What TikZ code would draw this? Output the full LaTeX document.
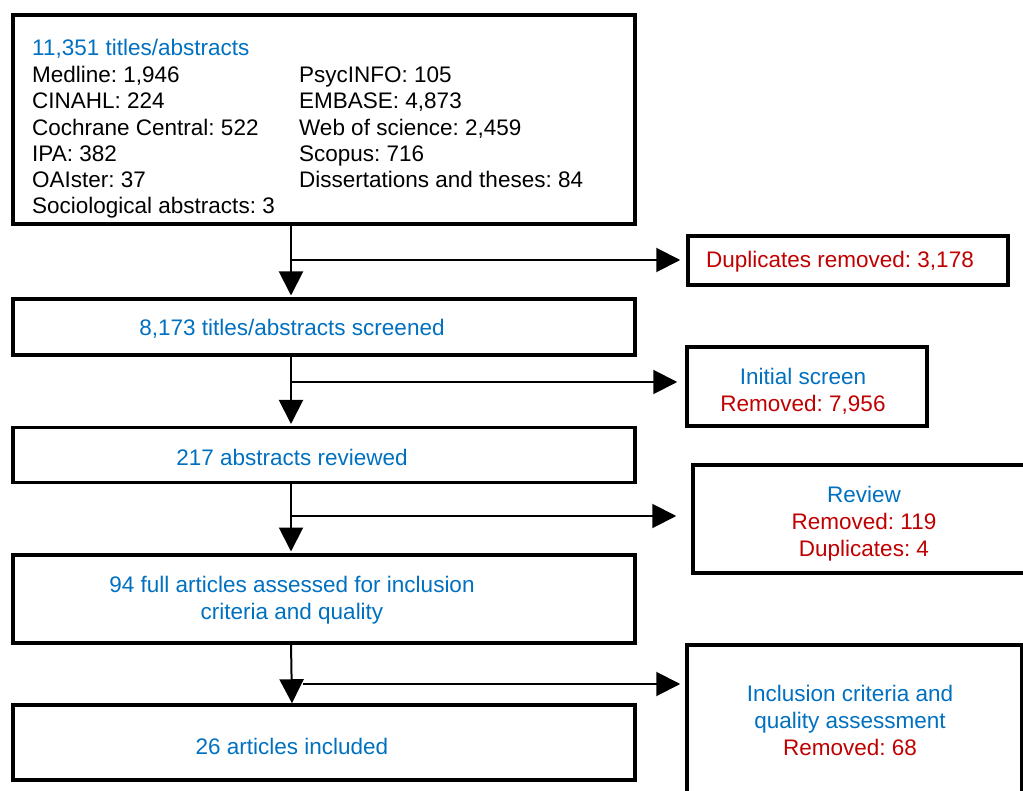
\documentclass[tikz,border=0pt]{standalone}
\usepackage{fontspec}
\setmainfont{Liberation Sans}
\usetikzlibrary{arrows.meta}
\frenchspacing

\definecolor{flowblue}{RGB}{0,112,192}
\definecolor{flowred}{RGB}{192,0,0}

\begin{document}
\begin{tikzpicture}[x=1pt,y=-1pt]
\tikzset{box/.style={draw,line width=3.5pt,inner sep=0pt}}
\tikzset{txt/.style={align=center,inner sep=0pt,font=\fontsize{22.5}{27}\selectfont}}
\tikzset{flow/.style={line width=2pt,-{Triangle[length=24pt,width=24pt]}}}

  \useasboundingbox (0,0) rectangle (1023,791);
  \clip (0,0) rectangle (1023,791);

  % main column
  \node[box,minimum width=622pt,minimum height=209pt] (b1) at (324,119.5) {};
  \node[box,minimum width=622pt,minimum height=56pt]  (b2) at (324,327) {};
  \node[box,minimum width=622pt,minimum height=55pt]  (b3) at (324,455) {};
  \node[box,minimum width=622pt,minimum height=88pt]  (b4) at (324,599) {};
  \node[box,minimum width=622pt,minimum height=75pt]  (b5) at (324,742.5) {};

  % side boxes
  \node[box,minimum width=320pt,minimum height=49pt]  (dup) at (848,260.5) {};
  \node[box,minimum width=240pt,minimum height=79pt]  (init) at (807,386.5) {};
  \node[box,minimum width=357pt,minimum height=108pt] (rev) at (871.5,519) {};
  \node[box,minimum width=335pt,minimum height=185pt] (incl) at (854.5,737.5) {};

  % texts
  \node[inner sep=0pt,anchor=north west,font=\fontsize{22.5}{26.3}\selectfont] (srcs) at (32,36.5) {%
    \begin{tabular}{@{}p{267pt}@{}l@{}}
      \multicolumn{2}{@{}l@{}}{\color{flowblue}11,351 titles/abstracts}\\[1pt]
      Medline: 1,946 & PsycINFO: 105\\
      CINAHL: 224 & EMBASE: 4,873\\
      Cochrane Central: 522 & Web of science: 2,459\\
      IPA: 382 & Scopus: 716\\
      OAIster: 37 & Dissertations and theses: 84\\
      Sociological abstracts: 3 &
    \end{tabular}};
  \node[txt,text=flowblue] (t2) at (292,329) {8,173 titles/abstracts screened};
  \node[txt,text=flowblue] (t3) at (292,457) {217 abstracts reviewed};
  \node[txt,text=flowblue] (t4) at (292,600.5) {94 full articles assessed for inclusion\\criteria and quality};
  \node[txt,text=flowred] (tdup) at (840,261.5) {Duplicates removed: 3,178};
  \node[txt,text=flowblue] (t5) at (292,746) {26 articles included};
  \node[txt,text=flowred] (tinit) at (803,391.5) {{\color{flowblue}Initial screen}\\Removed: 7,956};
  \node[txt,text=flowred] (trev) at (864,523.5) {{\color{flowblue}Review}\\Removed: 119\\Duplicates: 4};
  \node[txt,text=flowred] (tincl) at (850,720.5) {{\color{flowblue}Inclusion criteria and}\\{\color{flowblue}quality assessment}\\Removed: 68};

  % connectors
  \coordinate (j1) at (291,260);
  \coordinate (j2) at (291,382);
  \coordinate (j3) at (291,516);
  \coordinate (j4) at (303,684);
  \coordinate (j5) at (291,643);
  \coordinate (j6) at (292,705);

  \draw[flow,shorten >=1.75pt] (b1.south -| j1) -- (b2.north -| j1);
  \draw[flow,shorten >=1.75pt] (b2.south -| j2) -- (b3.north -| j2);
  \draw[flow,shorten >=1.75pt] (b3.south -| j3) -- (b4.north -| j3);
  \draw[flow,shorten >=1.75pt] (j5) -- (j6);

  \draw[flow,shorten >=6pt]  (j1) -- (dup.west |- j1);
  \draw[flow,shorten >=8pt]  (j2) -- (init.west |- j2);
  \draw[flow,shorten >=15pt] (j3) -- (rev.west |- j3);
  \draw[flow,shorten >=5pt]  (j4) -- (incl.west |- j4);
\end{tikzpicture}
\end{document}
